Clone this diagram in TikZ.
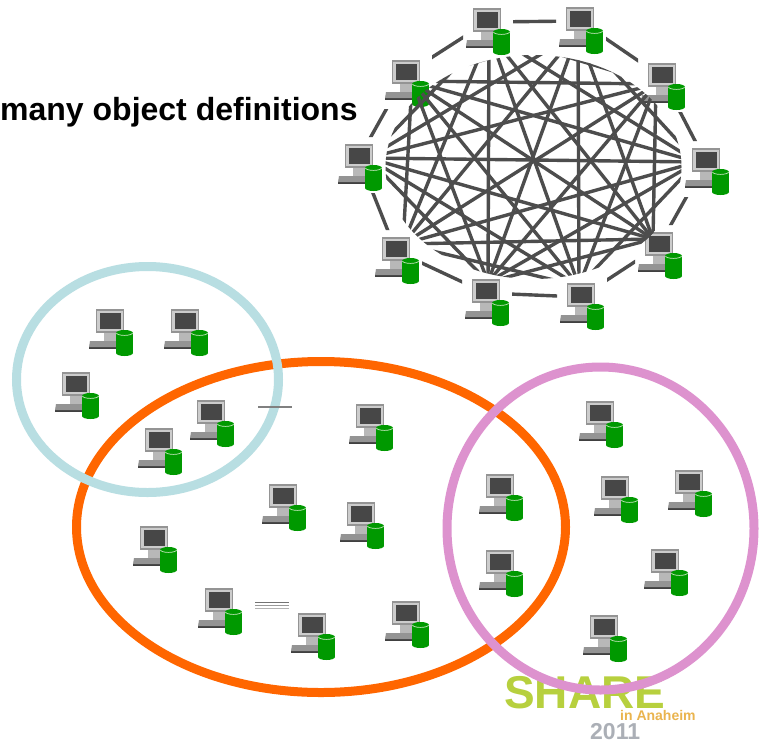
\documentclass[tikz,border=0pt]{standalone}
\usepackage{fontspec}
\setmainfont{Liberation Sans}
\definecolor{meshgray}{HTML}{4D4D4D}
\definecolor{disk}{HTML}{009900}
\definecolor{diskrim}{HTML}{C8E6C0}
\definecolor{tealring}{HTML}{B8DEE2}
\definecolor{orangering}{HTML}{FF6600}
\definecolor{pinkring}{HTML}{DD92CE}
\definecolor{sharegreen}{HTML}{B7D03E}
\definecolor{shareorange}{HTML}{EAB44E}
\definecolor{sharegray}{HTML}{ABAFB6}
\tikzset{
    pcbox/.style={rectangle, minimum size=0pt, inner sep=0pt},
    meshline/.style={draw=meshgray, line width=3.4pt},
    ring/.style={line width=9pt},
    pcicon/.pic={
        \fill[black!75] (-21, 24) rectangle (9, 25.5);
        \fill[black!42] (-20, 18) -- (9, 18) -- (9, 24) -- (-21, 24) -- cycle;
        \fill[black!28] (-6, 9) rectangle (6, 18);
        \fill[black!15] (-9, 9) arc[x radius=9, y radius=4, start angle=180, end angle=360] -- cycle;
        \draw[fill=black!20, draw=black!42, line width=1.2pt] (-13.5, -13) rectangle (13.5, 9);
        \fill[black!72] (-10.5, -10) rectangle (10.5, 6);
        \fill[disk] (6, 10) rectangle (23, 30);
        \fill[disk] (14.5, 30) ellipse (8.5 and 3);
        \fill[disk] (14.5, 10) ellipse (8.5 and 3);
        \draw[diskrim, line width=0.7pt] (6.5, 10) arc[x radius=8, y radius=2.4, start angle=180, end angle=0];
    }
}
\newcommand{\pcnode}[3]{
    \node[pcbox] (#1) at (#2, #3) {};
    \pic at (#1) {pcicon};
}
\newcommand{\meshlink}[2]{
    \begin{scope}[even odd rule]
        \clip (0, 0) rectangle (765, 742)
            ([shift={(-24, -21)}]#1) rectangle ([shift={(26, 35)}]#1)
            ([shift={(-24, -21)}]#2) rectangle ([shift={(26, 35)}]#2);
        \draw[meshline] (#1) -- (#2);
    \end{scope}
}
\begin{document}
\begin{tikzpicture}[x=1pt, y=-1pt]
    \useasboundingbox[fill=white] (0, 0) rectangle (765, 742);

    % logo sits under the rings
    \node[anchor=base west, inner sep=0pt, text=sharegreen, font=\bfseries\fontsize{46}{46}\selectfont] (share) at (504, 708) {SHARE};
    \node[anchor=base west, inner sep=0pt, text=shareorange, font=\bfseries\fontsize{14}{15}\selectfont] (anaheim) at (620, 720) {in Anaheim};
    \node[anchor=base west, inner sep=0pt, text=sharegray, font=\bfseries\fontsize{23}{23}\selectfont] (year) at (590, 739) {2011};

    \node[anchor=base west, inner sep=0pt, font=\bfseries\fontsize{32}{32}\selectfont] (title) at (0, 120) {many object definitions};

    \draw[ring, draw=orangering] (321, 527) ellipse (244.5 and 165.5);
    \draw[ring, draw=tealring] (147.5, 379.5) ellipse (131 and 113);
    \draw[ring, draw=pinkring] (600.5, 528.5) ellipse (153.5 and 161.5);

    % ring of ten
    \pcnode{pca}{487}{22}
    \pcnode{pcb}{580}{21}
    \pcnode{pcc}{662}{77}
    \pcnode{pcd}{706}{162}
    \pcnode{pce}{659}{246}
    \pcnode{pcf}{581}{297}
    \pcnode{pcg}{486}{293}
    \pcnode{pch}{396}{251}
    \pcnode{pci}{359}{158}
    \pcnode{pcj}{406}{74}

    % links round the outside
    \meshlink{pca}{pcb}
    \meshlink{pcb}{pcc}
    \meshlink{pcc}{pcd}
    \meshlink{pcd}{pce}
    \meshlink{pce}{pcf}
    \meshlink{pcf}{pcg}
    \meshlink{pcg}{pch}
    \meshlink{pch}{pci}
    \meshlink{pci}{pcj}
    \meshlink{pcj}{pca}

    % inner ends of the cross links
    \node[pcbox] (ina) at (489, 33) {};
    \node[pcbox] (inb) at (578, 32) {};
    \node[pcbox] (inc) at (656, 84) {};
    \node[pcbox] (ind) at (697, 162) {};
    \node[pcbox] (ine) at (653, 239) {};
    \node[pcbox] (inf) at (579, 286) {};
    \node[pcbox] (ing) at (488, 282) {};
    \node[pcbox] (inh) at (403, 244) {};
    \node[pcbox] (ini) at (368, 158) {};
    \node[pcbox] (inj) at (412, 81) {};

    \begin{scope}
        \clip (533.5, 167) ellipse (148 and 112);
        \foreach \from/\others in {ina/{inc,ind,ine,inf,ing,inh,ini},
                                   inb/{ind,ine,inf,ing,inh,ini,inj},
                                   inc/{ine,inf,ing,inh,ini,inj},
                                   ind/{inf,ing,inh,ini,inj},
                                   ine/{ing,inh,ini,inj},
                                   inf/{inh,ini,inj},
                                   ing/{ini,inj},
                                   inh/{inj}} {
            \foreach \to in \others {
                \draw[meshline] (\from) -- (\to);
            }
        }
    \end{scope}

    % teal group
    \pcnode{tealA}{110}{323}
    \pcnode{tealB}{185}{323}
    \pcnode{tealC}{76}{386}
    \pcnode{tealD}{211}{414}
    \pcnode{tealE}{159}{442}

    % orange group
    \pcnode{orangeA}{370}{418}
    \pcnode{orangeB}{283}{498}
    \pcnode{orangeC}{361}{516}
    \pcnode{orangeD}{154}{540}
    \pcnode{orangeE}{219}{602}
    \pcnode{orangeF}{312}{627}
    \pcnode{orangeG}{406}{615}

    % shared with pink
    \pcnode{pinkA}{500}{488}
    \pcnode{pinkB}{500}{564}
    \pcnode{pinkC}{600}{415}
    \pcnode{pinkD}{615}{490}
    \pcnode{pinkE}{689}{484}
    \pcnode{pinkF}{665}{563}
    \pcnode{pinkG}{604}{629}

    % leftover stubs
    \coordinate (stubA) at (258, 407);
    \coordinate (stubB) at (292, 407);
    \draw[black!50, line width=2pt] (stubA) -- (stubB);
    \coordinate (stubC) at (255, 602);
    \coordinate (stubD) at (289, 602);
    \coordinate (stubE) at (255, 605);
    \coordinate (stubF) at (289, 605);
    \coordinate (stubG) at (255, 608);
    \coordinate (stubH) at (289, 608);
    \draw[black!55, line width=1pt] (stubC) -- (stubD);
    \draw[black!40, line width=1pt] (stubE) -- (stubF);
    \draw[black!30, line width=0.8pt] (stubG) -- (stubH);
\end{tikzpicture}
\end{document}
